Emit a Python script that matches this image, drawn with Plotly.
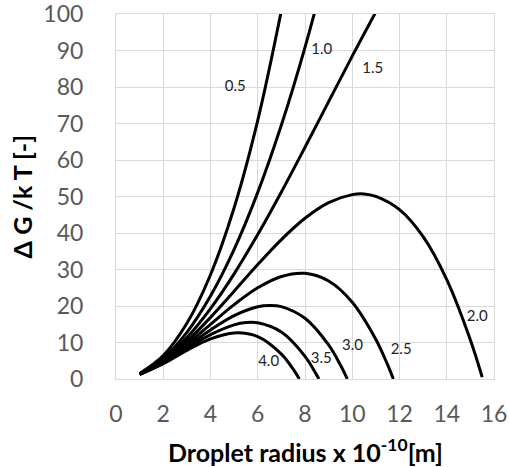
import plotly.graph_objects as go

# Droplet radius (x 1e-10 m) and dimensionless free energy dG/kT for each curve
r_05 = [1, 2, 3, 4, 5, 6, 7]
g_05 = [1.51, 6.41, 15.25, 28.57, 46.93, 70.88, 100.96]

r_10 = [1, 2, 3, 4, 5, 6, 7, 8, 9]
g_10 = [1.42, 5.68, 12.78, 22.72, 35.5, 51.12, 69.58, 90.88, 115.02]

r_15 = [1, 2, 3, 4, 5, 6, 7, 8, 9, 10, 11]
g_15 = [1.37, 5.25, 11.34, 19.29, 28.81, 39.56, 51.22, 63.48, 76.0, 88.47, 100.57]

r_20 = [1, 2, 3, 4, 5, 6, 7, 8, 9, 10, 10.5, 11, 12, 13, 14, 15, 15.5]
g_20 = [1.33, 4.95, 10.31, 16.87, 24.06, 31.36, 38.20, 44.04, 48.32, 50.51, 50.7,
        50.02, 46.38, 38.98, 27.22, 10.70, 0.5]

r_25 = [1, 2, 3, 4, 5, 6, 7, 8, 9, 10, 11, 11.5, 11.74]
g_25 = [1.30, 4.71, 9.51, 14.98, 20.38, 24.99, 28.09, 28.95, 26.85, 21.05, 10.84, 3.85, 0.0]

r_30 = [1, 2, 3, 4, 5, 6, 6.5, 7, 8, 9, 9.5, 9.79]
g_30 = [1.27, 4.52, 8.87, 13.44, 17.37, 19.80, 20.17, 19.84, 16.63, 9.32, 3.83, 0.0]

r_35 = [1, 2, 3, 4, 5, 5.5, 6, 7, 8, 8.5, 8.59]
g_35 = [1.25, 4.36, 8.32, 12.14, 14.83, 15.45, 15.40, 12.86, 6.21, 1.05, 0.0]

r_40 = [1, 2, 3, 4, 5, 6, 7, 7.5, 7.76]
g_40 = [1.24, 4.22, 7.84, 11.01, 12.63, 11.59, 6.81, 2.68, 0.0]

curves = [(r_05, g_05), (r_10, g_10), (r_15, g_15), (r_20, g_20),
          (r_25, g_25), (r_30, g_30), (r_35, g_35), (r_40, g_40)]

# Curve labels and where they sit
label_text = ["0.5", "1.0", "1.5", "2.0", "2.5", "3.0", "3.5", "4.0"]
label_x = [5.05, 8.71, 10.87, 15.29, 12.07, 10.01, 8.69, 6.46]
label_y = [80.0, 90.1, 85.0, 16.8, 7.8, 8.9, 5.3, 4.5]

x_ticks = [0, 2, 4, 6, 8, 10, 12, 14, 16]
y_ticks = [0, 10, 20, 30, 40, 50, 60, 70, 80, 90, 100]

fig = go.Figure()
for rx, gy in curves:
    fig.add_trace(go.Scatter(
        x=rx, y=gy, mode="lines", line=dict(color="black", width=3, shape="spline", smoothing=1.0),
        showlegend=False, hoverinfo="skip"))

fig.add_trace(go.Scatter(
    x=label_x, y=label_y, mode="text", text=label_text,
    textfont=dict(family="Lato", size=15, color="#222222"),
    showlegend=False, hoverinfo="skip", cliponaxis=False))

grid = "#d9d9d9"
tick_font = dict(family="Lato", size=23, color="#595959")
title_font = dict(family="Lato", size=25, color="black")

fig.update_layout(
    width=509, height=467,
    margin=dict(l=116, r=15, t=14, b=88, autoexpand=False),
    paper_bgcolor="white", plot_bgcolor="white",
    xaxis=dict(
        range=[0, 16], tickvals=x_ticks, showgrid=True, gridcolor=grid, gridwidth=1,
        zeroline=False, showline=True, linecolor=grid, mirror=True, automargin=False,
        tickfont=tick_font, ticks="", ticklabelstandoff=14, ticklabeloverflow="allow",
    ),
    yaxis=dict(
        range=[0, 100], tickvals=y_ticks, showgrid=True, gridcolor=grid, gridwidth=1,
        zeroline=False, showline=True, linecolor=grid, mirror=True, automargin=False,
        tickfont=tick_font, ticks="", ticklabelstandoff=27, ticklabeloverflow="allow",
    ),
    annotations=[
        dict(text="<b>Droplet radius x 10<sup>-10</sup>[m]</b>", xref="paper", yref="paper",
             x=0.5, y=-0.195, xanchor="center", yanchor="middle", showarrow=False, font=title_font),
        dict(text="<b>\u0394 G /k T [-]</b>", xref="paper", yref="paper",
             x=-0.249, y=0.5, xanchor="center", yanchor="middle", textangle=-90,
             showarrow=False, font=title_font),
    ],
)

fig.write_html("out.html")
